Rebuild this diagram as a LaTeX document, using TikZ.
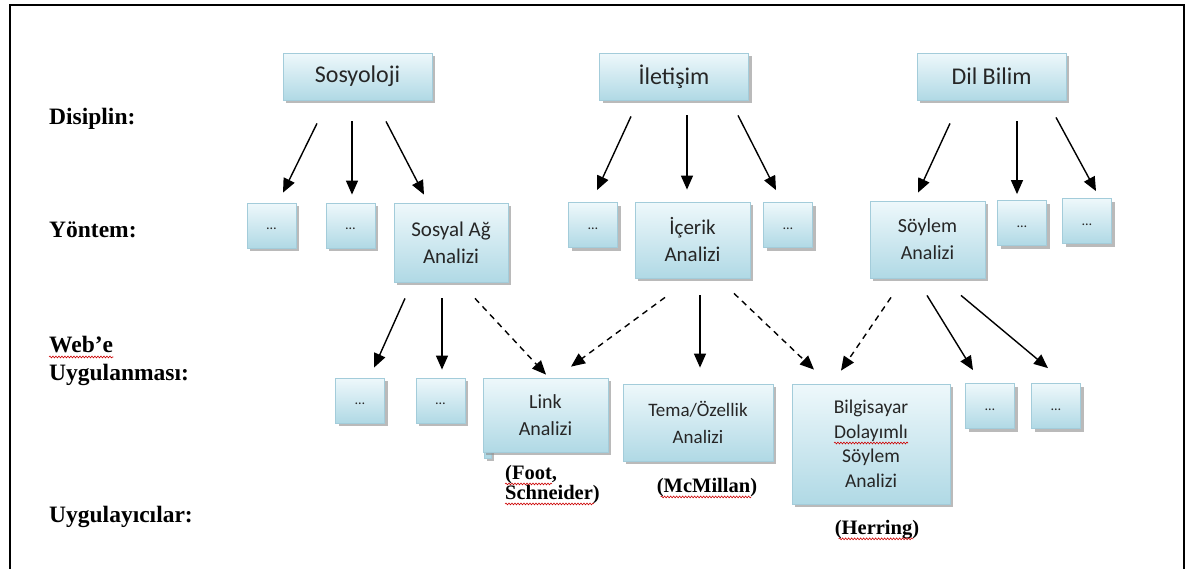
\documentclass[tikz,border=0pt]{standalone}
\usepackage{fontspec}
\newfontfamily\boxfont{Carlito}
\newfontfamily\labelfont{Liberation Serif}
\usetikzlibrary{arrows.meta,calc,shadows,decorations.pathmorphing}

\definecolor{boxtop}{HTML}{EEF8FB}
\definecolor{boxbot}{HTML}{B0D9E5}
\definecolor{boxline}{HTML}{A3CCDA}
\definecolor{inkgray}{HTML}{262626}

\newcommand{\bsize}[1]{\boxfont\fontsize{#1}{27}\selectfont}
\newcommand{\etc}{\raisebox{-4pt}[0pt][0pt]{…}}

\tikzset{
  sbox/.style={draw=boxline, line width=0.8pt, top color=boxtop, bottom color=boxbot,
    drop shadow={shadow xshift=3pt, shadow yshift=-3pt, fill=black!45, opacity=0.6},
    inner sep=0pt, align=center, text=inkgray, font=\bsize{20}},
  topbox/.style={sbox, minimum width=149pt, minimum height=47pt,
    font=\boxfont\fontsize{24}{28}\selectfont},
  dotbox/.style={sbox, minimum width=49pt, minimum height=45pt,
    font=\boxfont\fontsize{14}{16}\selectfont},
  rowlabel/.style={anchor=west, inner sep=0pt,
    font=\labelfont\bfseries\fontsize{23.5}{25}\selectfont},
  cite/.style={inner sep=0pt, font=\labelfont\bfseries\fontsize{20.5}{21}\selectfont},
  arr/.style={line width=1.4pt, -{Triangle[length=14pt,width=12pt]}},
  darr/.style={arr, dash pattern=on 6pt off 5pt},
  squig/.style={red!80!black, line width=0.6pt, decorate,
    decoration={snake, amplitude=0.9pt, segment length=3pt}},
}

\begin{document}
\begin{tikzpicture}[x=1pt,y=-1pt]
\useasboundingbox (0,0) rectangle (1192,568);
\fill[white] (0,0) rectangle (1192,568);
\draw[line width=2.5pt] (10,5) rectangle (1184,590);

% row labels
\node[rowlabel] (ldis) at (49,119) {Disiplin:};
\node[rowlabel] (lyon) at (49,230) {Yöntem:};
\node[rowlabel] (lweb) at (49,345) {Web’e};
\node[rowlabel] (luyg) at (49,375) {Uygulanması:};
\node[rowlabel] (luyc) at (49,517) {Uygulayıcılar:};

% disciplines
\node[topbox] (sos) at (357.5,76.5) {Sosyoloji};
\node[topbox] (ilt) at (674,76.5) {İletişim};
\node[topbox] (dil) at (991.5,76.5) {Dil Bilim};

% methods
\node[dotbox] (y1a) at (271.5,225.5) {\etc};
\node[dotbox] (y1b) at (350.5,225.5) {\etc};
\node[sbox, minimum width=114pt, minimum height=79pt, font=\bsize{21}] (sag) at (451,242.5) {Sosyal Ağ\\Analizi};
\node[dotbox] (y2a) at (593,225) {\etc};
\node[sbox, minimum width=115pt, minimum height=76pt, font=\bsize{21}] (ice) at (692.5,240) {İçerik\\Analizi};
\node[dotbox] (y2b) at (788,225) {\etc};
\node[sbox, minimum width=115pt, minimum height=77pt, font=\bsize{20}] (soy) at (927.5,239.5) {Söylem\\Analizi};
\node[dotbox] (y3a) at (1022,223) {\etc};
\node[dotbox] (y3b) at (1087,221) {\etc};

% web applications
\node[dotbox] (w1a) at (360,400.5) {\etc};
\node[dotbox] (w1b) at (440.5,400.5) {\etc};
\fill[black!45, opacity=0.6] (487,452) rectangle (494,461);
\draw[boxline, line width=0.8pt, fill=boxbot] (484,449) rectangle (491,458);
\node[sbox, minimum width=125pt, minimum height=74pt] (lnk) at (545.5,415) {Link\\Analizi};
\node[sbox, minimum width=150pt, minimum height=77pt, font=\bsize{19}] (tem) at (698,422.5) {Tema/Özellik\\Analizi};
\node[sbox, minimum width=158pt, minimum height=120pt,
      font=\boxfont\fontsize{19.5}{24.5}\selectfont] (bil) at (871,444)
      {Bilgisayar\\Dolayımlı\\Söylem\\Analizi};
\node[dotbox] (w3a) at (990,406) {\etc};
\node[dotbox] (w3b) at (1056,406) {\etc};

% researchers
\node[cite, anchor=west] (cfoot) at (505,475) {(Foot,};
\node[cite, anchor=west] (cschn) at (505,495) {Schneider)};
\node[cite] (cmcm) at (707,488) {(McMillan)};
\node[cite] (cher) at (877,530) {(Herring)};

% discipline -> method
\draw[arr] ($(sos.south)+(-40.5,23)$) -- ($(y1a.north)+(11.5,-10)$);
\draw[arr] ($(sos.south)+(-5.5,21)$) -- ($(y1b.north)+(1.5,-8)$);
\draw[arr] ($(sos.south)+(28.5,21)$) -- ($(sag.north)+(-27,-8)$);
\draw[arr] ($(ilt.south)+(-43,16)$) -- ($(y2a.north)+(4,-12)$);
\draw[arr] ($(ilt.south)+(13,15)$) -- ($(ice.north)+(-5.5,-12)$);
\draw[arr] ($(ilt.south)+(64,15)$) -- ($(y2b.north)+(-12,-12)$);
\draw[arr] ($(dil.south)+(-41.5,23)$) -- ($(soy.north)+(-9.5,-8)$);
\draw[arr] ($(dil.south)+(25.5,21)$) -- ($(y3a.north)+(-5,-6)$);
\draw[arr] ($(dil.south)+(64.5,17)$) -- ($(y3b.north)+(9,-7)$);

% method -> web application
\draw[arr]  ($(sag.south)+(-46,16)$) -- ($(w1a.north)+(14,-10)$);
\draw[arr]  ($(sag.south)+(-9,16)$) -- ($(w1b.north)+(1.5,-8)$);
\draw[darr] ($(sag.south)+(24,16)$) -- ($(lnk.north)+(0.5,-3)$);
\draw[darr] ($(ice.south)+(-27.5,19)$) -- ($(lnk.north)+(25.5,-11)$);
\draw[arr]  ($(ice.south)+(7.5,17)$) -- ($(tem.north)+(2,-16)$);
\draw[darr] ($(ice.south)+(41.5,15)$) -- ($(bil.north)+(-57,-14)$);
\draw[darr] ($(soy.south)+(-36.5,19)$) -- ($(bil.north)+(-30,-13)$);
\draw[arr]  ($(soy.south)+(-0.5,17)$) -- ($(w3a.north)+(-17,-13)$);
\draw[arr]  ($(soy.south)+(33.5,17)$) -- ($(w3b.north)+(-8,-15)$);

% spell-check underlines
\draw[squig] ($(lweb.base west)+(0,4)$) -- ($(lweb.base east)+(0,4)$);
\draw[squig] ($(cfoot.base west)+(0,4)$) -- ($(cfoot.base east)+(-5,4)$);
\draw[squig] ($(cschn.base west)+(0,4)$) -- ($(cschn.base east)+(-6,4)$);
\draw[squig] ($(cmcm.base west)+(4,4)$) -- ($(cmcm.base east)+(-6,4)$);
\draw[squig] ($(cher.base west)+(4,4)$) -- ($(cher.base east)+(-6,4)$);
\draw[squig] ($(bil.center)+(-37,-1)$) -- ($(bil.center)+(37,-1)$);
\end{tikzpicture}
\end{document}
